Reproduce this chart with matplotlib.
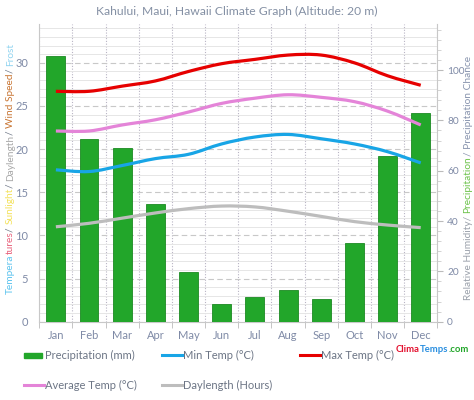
import numpy as np
import matplotlib
matplotlib.use("Agg")
import matplotlib.pyplot as plt
from matplotlib.path import Path
from matplotlib.patches import PathPatch, Rectangle
from matplotlib.lines import Line2D
from matplotlib.ticker import MultipleLocator, FixedLocator

plt.rcParams["font.family"] = ["Lato", "DejaVu Sans"]

# data
months = ["Jan", "Feb", "Mar", "Apr", "May", "Jun", "Jul", "Aug", "Sep", "Oct", "Nov", "Dec"]
precip = [105.5, 72.6, 68.9, 46.9, 19.6, 7.0, 9.8, 12.5, 9.0, 31.3, 65.7, 82.8]
min_temp = [17.6, 17.4, 18.1, 18.9, 19.4, 20.6, 21.4, 21.7, 21.2, 20.6, 19.7, 18.4]
max_temp = [26.7, 26.7, 27.3, 27.9, 29.0, 29.9, 30.4, 30.9, 30.9, 30.0, 28.5, 27.4]
avg_temp = [22.1, 22.1, 22.8, 23.4, 24.3, 25.3, 25.9, 26.3, 26.0, 25.5, 24.4, 22.8]
daylength = [11.0, 11.4, 12.0, 12.6, 13.1, 13.4, 13.3, 12.8, 12.2, 11.6, 11.2, 10.9]

left_ticks = [0, 5, 10, 15, 20, 25, 30]
right_ticks = [0, 20, 40, 60, 80, 100]

label_col = "#7f8aa6"
text_col = "#6c7585"


def smooth_path(xs, ys):
    # catmull-rom style bezier through the points
    pts = np.column_stack([xs, ys]).astype(float)
    n = len(pts)
    verts = [pts[0]]
    codes = [Path.MOVETO]
    for i in range(n - 1):
        p0 = pts[max(i - 1, 0)]
        p1 = pts[i]
        p2 = pts[i + 1]
        p3 = pts[min(i + 2, n - 1)]
        c1 = p1 + (p2 - p0) / 6.0
        c2 = p2 - (p3 - p1) / 6.0
        verts += [c1, c2, p2]
        codes += [Path.CURVE4] * 3
    return Path(verts, codes)


def rainbow(ax, x, y, parts, vertical=False, **kw):
    rot = 90 if vertical else 0
    s, c = parts[0]
    t = ax.text(x, y, s, color=c, rotation=rot, ha="left", va="bottom",
                transform=ax.figure.transFigure, **kw)
    for s, c in parts[1:]:
        t = ax.annotate(s, xy=(0, 1) if vertical else (1, 0), xycoords=t,
                        ha="left", va="bottom", color=c, rotation=rot,
                        annotation_clip=False, **kw)


fig = plt.figure(figsize=(4.74, 4.0), dpi=100)
ax = fig.add_axes([0.0829, 0.1958, 0.8397, 0.7442])
x = np.arange(len(months))

# base axis: left scale + grid
ax.set_xlim(-0.5, 11.5)
ax.set_ylim(0, 34.5)
ax.yaxis.set_major_locator(FixedLocator(left_ticks))
ax.yaxis.set_minor_locator(MultipleLocator(1))
ax.grid(axis="y", which="minor", color="#e6e6e6", lw=0.7, ls="-")
ax.grid(axis="y", which="major", color="#c8c8c8", lw=0.8, ls=(0, (5, 3)))
ax.set_xticks(x)
ax.set_xticklabels(months)
ax.xaxis.set_minor_locator(FixedLocator(np.arange(-0.5, 12, 1)))
ax.grid(axis="x", which="minor", color="#b8b4c4", lw=0.8, ls=(0, (1, 1.5)))
ax.tick_params(axis="x", which="major", length=0, pad=6, labelsize=8, labelcolor=label_col)
ax.tick_params(axis="x", which="minor", length=4, color="#bbbbbb")
ax.tick_params(axis="y", which="both", length=0, pad=8, labelsize=8, labelcolor=label_col)
for sp in ["top", "right"]:
    ax.spines[sp].set_visible(False)
ax.spines["left"].set_color("#c8c8c8")
ax.spines["bottom"].set_color("#c8c8c8")

# precipitation bars on right scale
axb = ax.twinx()
axb.bar(x, precip, width=0.57, color="#22a62a", edgecolor="#1c8a22", lw=0.6)
axb.set_ylim(0, 118.3)
axb.yaxis.set_major_locator(FixedLocator(right_ticks))
axb.yaxis.set_minor_locator(MultipleLocator(4))
axb.tick_params(axis="y", which="major", length=4, color="#bbbbbb", pad=3,
                labelsize=7.3, labelcolor=label_col)
axb.tick_params(axis="y", which="minor", length=3, color="#cccccc")
for sp in ["top", "left", "bottom"]:
    axb.spines[sp].set_visible(False)
axb.spines["right"].set_color("#c8c8c8")

# temperature / daylength lines on left scale
axl = ax.twinx()
axl.set_ylim(ax.get_ylim())
axl.set_xlim(ax.get_xlim())
axl.axis("off")
series = [(daylength, "#bdbdbd"), (min_temp, "#18a5e6"),
          (avg_temp, "#e484d8"), (max_temp, "#e60000")]
for vals, col in series:
    axl.add_patch(PathPatch(smooth_path(x, vals), fill=False, edgecolor=col,
                            lw=2.3, capstyle="butt", joinstyle="round"))

fig.text(0.5, 0.972, "Kahului, Maui, Hawaii Climate Graph (Altitude: 20 m)",
         ha="center", va="center", fontsize=8.7, color="#8490a4")

rainbow(ax, 0.012, 0.265, [("Tempera", "#5cc3ee"), ("tures", "#e8627c"),
                            ("/ ", "#6c7585"), ("Sunlight", "#f3e15a"),
                            ("/ ", "#6c7585"), ("Daylength", "#a8a8a8"),
                            ("/ ", "#6c7585"), ("Wind Speed", "#c87533"),
                            ("/ ", "#6c7585"), ("Frost", "#8fd3f0")],
        vertical=True, fontsize=7.3)
rainbow(ax, 0.978, 0.25, [("Relative Humidity/ ", "#9aa0aa"),
                           ("Precipitation", "#6cc24a"),
                           ("/ Precipitation Chance", "#8793ad")],
        vertical=True, fontsize=7.3)

# legend
W, H = 474.0, 400.0
leg = [("bar", "#22a62a", "Precipitation (mm)", 24, 355),
       ("line", "#18a5e6", "Min Temp (\u00b0C)", 162, 355),
       ("line", "#e60000", "Max Temp (\u00b0C)", 300, 355),
       ("line", "#e484d8", "Average Temp (\u00b0C)", 24, 385),
       ("line", "#bdbdbd", "Daylength (Hours)", 162, 385)]
for kind, col, lab, px, py in leg:
    fy = 1 - py / H
    if kind == "bar":
        fig.patches.append(Rectangle((px / W, fy - 2.5 / H), 18 / W, 5 / H,
                                     transform=fig.transFigure, color=col))
    else:
        fig.lines.append(Line2D([px / W, (px + 20) / W], [fy, fy], lw=2.2,
                                color=col, transform=fig.transFigure))
    fig.text((px + 21) / W, fy, lab, ha="left", va="center", fontsize=8, color=text_col)

rainbow(ax, 396 / W, 1 - 354 / H, [("Clima", "#e3102e"), ("Temps", "#2a8fe0"),
                                   (".com", "#22a62a")],
        fontsize=6.8, fontweight="bold")

fig.savefig("out.png", dpi=100)
